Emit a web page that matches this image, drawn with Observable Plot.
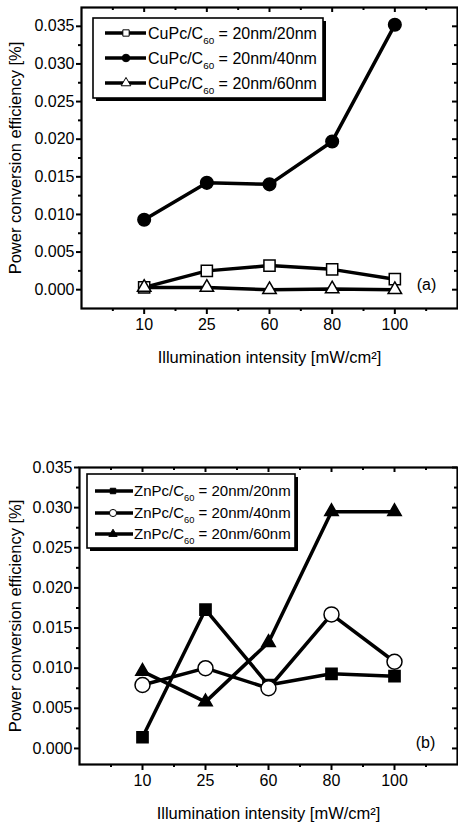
<!DOCTYPE html>
<html><head><meta charset="utf-8">
<script src="https://cdn.jsdelivr.net/npm/d3@7"></script>
<script src="https://cdn.jsdelivr.net/npm/@observablehq/plot@0.6"></script>
<style>
body{margin:0;background:#fff;}
#wrap{position:relative;width:458px;height:825px;overflow:hidden;background:#fff;}
#wrap svg{position:absolute;left:0;}
</style></head><body><div id="wrap"></div>
<script>
// ---- data ----
const intensity = ["10", "25", "60", "80", "100"];
const thickness = ["20nm/20nm", "20nm/40nm", "20nm/60nm"];
const cu20 = [0.0003, 0.0025, 0.0032, 0.0027, 0.0014];
const cu40 = [0.0093, 0.0142, 0.0140, 0.0197, 0.0352];
const cu60 = [0.0003, 0.0003, 0.0000, 0.0001, 0.0000];
const zn20 = [0.0014, 0.0173, 0.0079, 0.0093, 0.0090];
const zn40 = [0.0079, 0.0100, 0.0075, 0.0167, 0.0108];
const zn60 = [0.0096, 0.0058, 0.0132, 0.0295, 0.0295];
const yTicks = [0, 0.005, 0.010, 0.015, 0.020, 0.025, 0.030, 0.035];
const yMinor = [0.0025, 0.0075, 0.0125, 0.0175, 0.0225, 0.0275, 0.0325];
const xMajor = [1, 2, 3, 4, 5];
const xMinor = [0.5, 1.5, 2.5, 3.5, 4.5, 5.5];
const yLabel = "Power conversion efficiency [%]";
const xLabel = "Illumination intensity [mW/cm\u00B2]";

const FONT = "'Liberation Sans', Arial, sans-serif";
const W = 458;

function panel(cfg) {
  const plotH = cfg.height - cfg.mt - cfg.mb;
  const plotW = W - cfg.ml - cfg.mr;
  const rows = cfg.series.flatMap((s, k) => s.values.map((v, i) => ({pos: i + 1, v, key: k})));
  const marks = [
    Plot.line(rows, {x: "pos", y: "v", z: "key", stroke: "black", strokeWidth: 3.5}),
    ...cfg.series.map((s, k) => Plot.dot(rows.filter(d => d.key === k), {
      x: "pos", y: "v", symbol: s.symbol, r: s.r, fill: s.fill, stroke: "black", strokeWidth: 1.5
    })),
    Plot.frame({stroke: "black", strokeWidth: 2.2}),
    Plot.axisY({ticks: yTicks, tickFormat: d3.format(".3f"), tickSize: 5, tickPadding: 2, fontSize: 16, label: null, strokeWidth: 2}),
    Plot.axisY({ticks: yMinor, tickFormat: () => "", tickSize: 3, label: null, strokeWidth: 2}),
    Plot.tickY(yTicks, {y: d => d, insetLeft: plotW - 5, stroke: "black", strokeWidth: 2}),
    Plot.tickY(yMinor, {y: d => d, insetLeft: plotW - 3, stroke: "black", strokeWidth: 2}),
    Plot.axisX({ticks: xMajor, tickFormat: i => intensity[i - 1], tickSize: 6, tickPadding: 4, fontSize: 16, label: null, strokeWidth: 2}),
    Plot.axisX({ticks: xMinor, tickFormat: () => "", tickSize: 3, label: null, strokeWidth: 2}),
    Plot.tickX(xMajor, {x: d => d, insetBottom: plotH - 5, stroke: "black", strokeWidth: 2}),
    Plot.tickX(xMinor, {x: d => d, insetBottom: plotH - 3, stroke: "black", strokeWidth: 2}),
    Plot.text([yLabel], {frameAnchor: "left", textAnchor: "middle", lineAnchor: "middle", dx: 15 - cfg.ml, rotate: -90, fontSize: 16.5, fill: "black"}),
    Plot.text([xLabel], {frameAnchor: "bottom", textAnchor: "middle", lineAnchor: "middle", dy: 49, fontSize: 16.5, fill: "black"}),
    Plot.text([cfg.tag], {frameAnchor: "bottom-right", textAnchor: "middle", lineAnchor: "middle", dx: cfg.tagDx, dy: cfg.tagDy, fontSize: 16, fill: "black"})
  ];
  const svg = Plot.plot({
    width: W, height: cfg.height,
    marginTop: cfg.mt, marginBottom: cfg.mb, marginLeft: cfg.ml, marginRight: cfg.mr,
    x: {type: "linear", domain: [0, 6]},
    y: {type: "linear", domain: cfg.yDomain},
    style: {fontFamily: FONT, fontSize: "16px", color: "black", background: "transparent", overflow: "visible"},
    marks
  });
  svg.style.top = cfg.top + "px";
  addLegend(svg, cfg.legend);
  return svg;
}

function addLegend(svg, L) {
  const g = d3.select(svg).append("g").attr("font-family", FONT).attr("fill", "black").attr("text-anchor", "start");
  g.append("rect").attr("x", L.x0 + 3).attr("y", L.y0 + 3).attr("width", L.x1 - L.x0).attr("height", L.y1 - L.y0).attr("fill", "black");
  g.append("rect").attr("x", L.x0).attr("y", L.y0).attr("width", L.x1 - L.x0).attr("height", L.y1 - L.y0)
    .attr("fill", "white").attr("stroke", "black").attr("stroke-width", 1.6);
  L.items.forEach((it, k) => {
    const y = L.rowsY[k];
    g.append("line").attr("x1", L.lx0).attr("x2", L.lx1).attr("y1", y).attr("y2", y).attr("stroke", "black").attr("stroke-width", 3.5);
    g.append("path").attr("d", d3.symbol(it.type, it.size)()).attr("transform", `translate(${L.mx},${y})`)
      .attr("fill", it.fill).attr("stroke", "black").attr("stroke-width", 1);
    const t = g.append("text").attr("x", L.tx).attr("y", y + L.fs * 0.36).attr("font-size", L.fs).attr("text-anchor", "start");
    t.append("tspan").text(L.prefix);
    t.append("tspan").attr("font-size", L.fs * 0.62).attr("dy", L.fs * 0.3).text("60");
    t.append("tspan").attr("dy", -L.fs * 0.3).text(" = " + thickness[k]);
  });
}

const wrap = document.getElementById("wrap");

wrap.appendChild(panel({
  top: 0, height: 400, mt: 7, mb: 92, ml: 81, mr: 1,
  yDomain: [-0.0025, 0.0375],
  tag: "(a)", tagDx: -31, tagDy: -24,
  series: [
    {values: cu20, symbol: "square", r: 6.3, fill: "white"},
    {values: cu40, symbol: "circle", r: 6.3, fill: "black"},
    {values: cu60, symbol: "triangle", r: 5, fill: "white"}
  ],
  legend: {
    x0: 93, y0: 18, x1: 323, y1: 98, rowsY: [33, 58, 83],
    lx0: 105, lx1: 146, mx: 126, tx: 148, fs: 16, prefix: "CuPc/C",
    items: [
      {type: d3.symbolSquare, size: 40, fill: "white"},
      {type: d3.symbolCircle, size: 45, fill: "black"},
      {type: d3.symbolTriangle, size: 40, fill: "white"}
    ]
  }
}));

wrap.appendChild(panel({
  top: 440, height: 385, mt: 27, mb: 61, ml: 79, mr: 1,
  yDomain: [-0.002, 0.035],
  tag: "(b)", tagDx: -32, tagDy: -22,
  series: [
    {values: zn20, symbol: "square", r: 6.3, fill: "black"},
    {values: zn40, symbol: "circle", r: 7.5, fill: "white"},
    {values: zn60, symbol: "triangle", r: 5, fill: "black"}
  ],
  legend: {
    x0: 87, y0: 34, x1: 295, y1: 108, rowsY: [51, 73, 94],
    lx0: 95, lx1: 133, mx: 113, tx: 134, fs: 15, prefix: "ZnPc/C",
    items: [
      {type: d3.symbolSquare, size: 30, fill: "black"},
      {type: d3.symbolCircle, size: 40, fill: "white"},
      {type: d3.symbolTriangle, size: 30, fill: "black"}
    ]
  }
}));
</script></body></html>
